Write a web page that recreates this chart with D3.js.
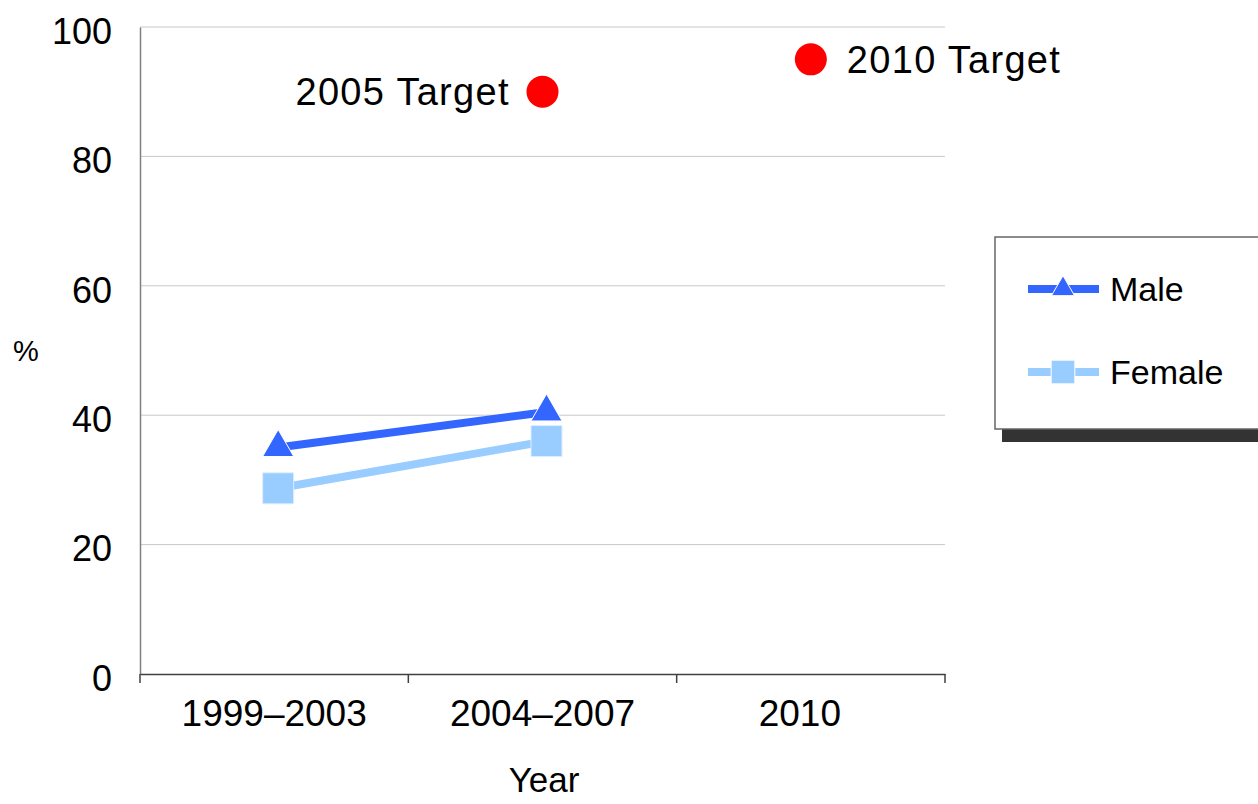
<!DOCTYPE html>
<html>
<head>
<meta charset="utf-8">
<script src="https://cdn.jsdelivr.net/npm/d3@7"></script>
<style>
  body { margin: 0; background: #fff; }
  text { font-family: "Liberation Sans", Arial, sans-serif; fill: #000; }
</style>
</head>
<body>
<div id="chart"></div>
<script>
const categories = ["1999–2003", "2004–2007", "2010"];
const yTicks = [0, 20, 40, 60, 80, 100];
const maleValues = [35, 40.5];
const femaleValues = [28.7, 36];
const targetLabels = ["2005 Target", "2010 Target"];
const targetCats = ["2004–2007", "2010"];
const targetValues = [90, 95];
const seriesNames = ["Male", "Female"];

const width = 1258, height = 804;
const plot = { left: 140, right: 945, top: 27, bottom: 674 };
const maleColor = "#3366ff";
const femaleColor = "#99ccff";
const shift = 4;

const svg = d3.select("#chart").append("svg")
  .attr("width", width).attr("height", height)
  .style("display", "block");

const x = d3.scaleBand().domain(categories).range([plot.left, plot.right]);
const y = d3.scaleLinear().domain([0, 100]).range([plot.bottom, plot.top]);
const cx = (c) => x(c) + x.bandwidth() / 2;

// gridlines
svg.append("g")
  .selectAll("line")
  .data(yTicks.filter((d) => d > 0))
  .join("line")
  .attr("x1", plot.left).attr("x2", plot.right)
  .attr("y1", (d) => y(d)).attr("y2", (d) => y(d))
  .attr("stroke", "#c8c8c8").attr("stroke-width", 1);

// y axis
const yAxis = svg.append("g")
  .attr("transform", `translate(${plot.left},0)`)
  .call(d3.axisLeft(y).tickValues(yTicks).tickSize(0).tickPadding(28));
yAxis.select(".domain").attr("stroke", "#808080").attr("stroke-width", 1.5);
yAxis.selectAll("text").style("font-size", "36px")
  .style("font-family", "'Liberation Sans', Arial, sans-serif")
  .attr("dy", "0.45em");

// x axis
const xAxis = svg.append("g")
  .attr("transform", `translate(0,${plot.bottom})`)
  .call(d3.axisBottom(x).tickSize(0).tickPadding(26));
xAxis.select(".domain").attr("stroke", "#404040").attr("stroke-width", 1.5);
xAxis.selectAll("text").style("font-size", "37px")
  .style("font-family", "'Liberation Sans', Arial, sans-serif")
  .attr("dx", (d) => (d === "2010" ? -11 : 0));
xAxis.selectAll(".tick line").remove();
// category boundary ticks
svg.append("g")
  .selectAll("line")
  .data(categories.concat([null]))
  .join("line")
  .attr("x1", (d) => (d ? x(d) : plot.right))
  .attr("x2", (d) => (d ? x(d) : plot.right))
  .attr("y1", plot.bottom).attr("y2", plot.bottom + 9)
  .attr("stroke", "#404040").attr("stroke-width", 1.5);

// axis titles
svg.append("text")
  .attr("x", 544).attr("y", 792)
  .attr("text-anchor", "middle")
  .style("font-size", "35px")
  .text("Year");
svg.append("text")
  .attr("x", 26).attr("y", 361)
  .attr("text-anchor", "middle")
  .style("font-size", "29px")
  .text("%");

// series lines
const line = d3.line()
  .x((d, i) => cx(categories[i]) + shift)
  .y((d) => y(d));

svg.append("path")
  .datum(femaleValues)
  .attr("d", line)
  .attr("fill", "none")
  .attr("stroke", femaleColor)
  .attr("stroke-width", 8);

svg.append("path")
  .datum(maleValues)
  .attr("d", line)
  .attr("fill", "none")
  .attr("stroke", maleColor)
  .attr("stroke-width", 8);

// female markers
svg.selectAll(".female")
  .data(femaleValues)
  .join("path")
  .attr("class", "female")
  .attr("d", d3.symbol(d3.symbolSquare, 961))
  .attr("transform", (d, i) => `translate(${cx(categories[i]) + shift},${y(d)})`)
  .attr("fill", femaleColor)
  .attr("stroke", "#ddeeff").attr("stroke-width", 1);

// male markers
svg.selectAll(".male")
  .data(maleValues)
  .join("path")
  .attr("class", "male")
  .attr("d", d3.symbol(d3.symbolTriangle, 420))
  .attr("transform", (d, i) => `translate(${cx(categories[i]) + shift},${y(d)})`)
  .attr("fill", maleColor)
  .attr("stroke", "#fff").attr("stroke-width", 1);

// targets
targetValues.forEach((v, i) => {
  const px = cx(targetCats[i]);
  const py = y(v);
  svg.append("circle")
    .attr("cx", px).attr("cy", py).attr("r", 16)
    .attr("fill", "#ff0000");
  svg.append("text")
    .attr("x", i === 0 ? px - 34 : px + 36)
    .attr("y", py)
    .attr("dy", "0.36em")
    .attr("text-anchor", i === 0 ? "end" : "start")
    .attr("textLength", 213)
    .attr("lengthAdjust", "spacing")
    .style("font-size", "38px")
    .text(targetLabels[i]);
});

// legend
const lg = svg.append("g").attr("transform", "translate(995,237)");
lg.append("rect")
  .attr("x", 7).attr("y", 13).attr("width", 300).attr("height", 192)
  .attr("fill", "#333");
lg.append("rect")
  .attr("x", 0).attr("y", 0).attr("width", 300).attr("height", 192)
  .attr("fill", "#fff").attr("stroke", "#666").attr("stroke-width", 1.5);

const legendRows = [
  { name: seriesNames[0], color: maleColor, symbol: d3.symbolTriangle, size: 230, cy: 52 },
  { name: seriesNames[1], color: femaleColor, symbol: d3.symbolSquare, size: 560, cy: 135 }
];
legendRows.forEach((r) => {
  lg.append("line")
    .attr("x1", 33).attr("x2", 104)
    .attr("y1", r.cy).attr("y2", r.cy)
    .attr("stroke", r.color).attr("stroke-width", 8);
  lg.append("path")
    .attr("d", d3.symbol(r.symbol, r.size))
    .attr("transform", `translate(68,${r.cy})`)
    .attr("fill", r.color)
    .attr("stroke", "#fff").attr("stroke-width", 1);
  lg.append("text")
    .attr("x", 115).attr("y", r.cy)
    .attr("dy", "0.36em")
    .style("font-size", "34px")
    .text(r.name);
});
</script>
</body>
</html>
